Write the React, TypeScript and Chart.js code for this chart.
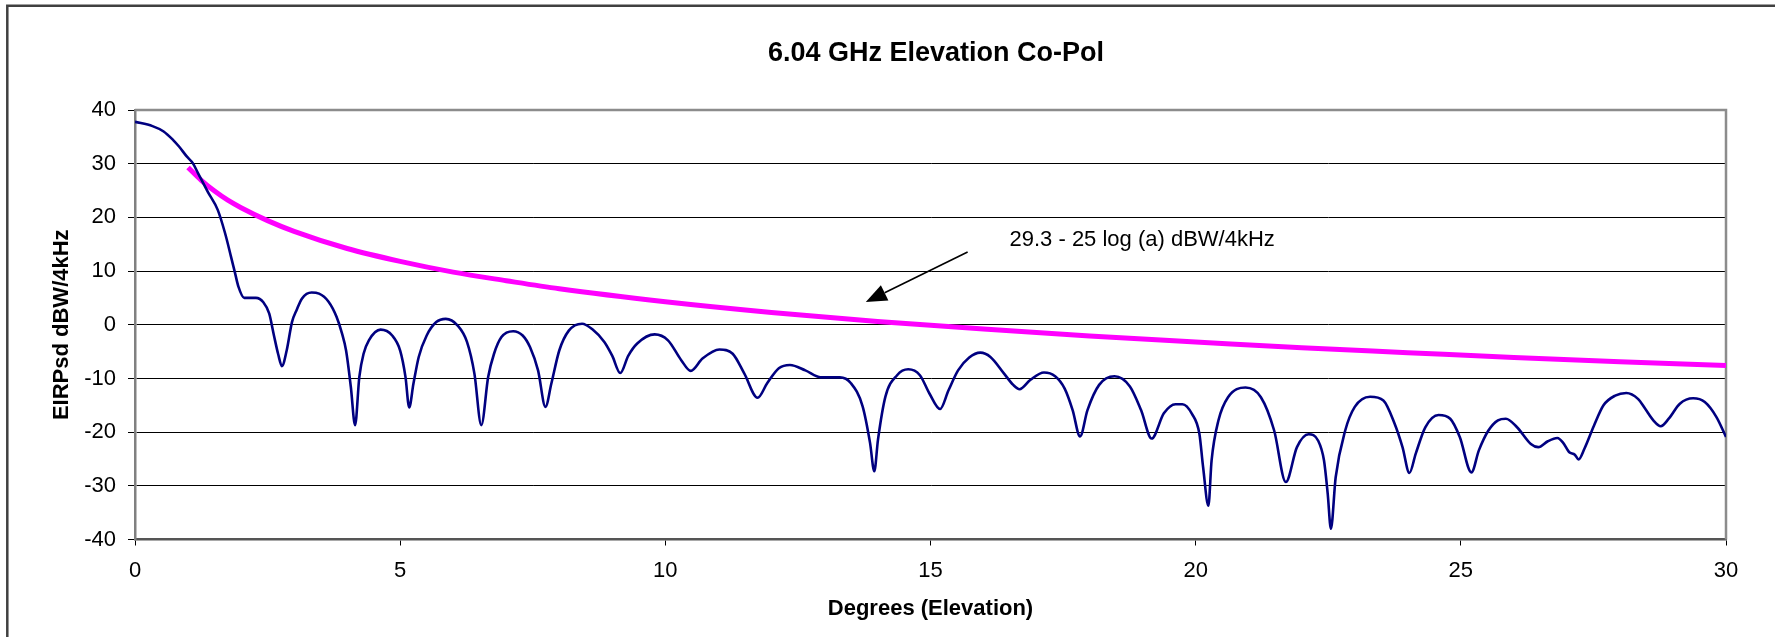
import React, { useEffect, useRef } from "react";
import { Chart, registerables } from "chart.js";

Chart.register(...registerables);

// Measured co-polar pattern (degrees elevation vs EIRPsd dBW/4kHz)
const elevationDeg = [
  0.0, 0.33, 0.54, 0.72, 0.83, 0.98, 1.09, 1.19, 1.37, 1.56, 1.7, 1.81, 1.88, 1.95, 2.06, 2.28, 2.42, 2.53, 2.62, 2.7,
  2.77, 2.86, 2.96, 3.05, 3.15, 3.33, 3.47, 3.65, 3.8, 3.9, 3.98, 4.07, 4.15, 4.23, 4.31, 4.41, 4.63, 4.85, 5.0, 5.1,
  5.17, 5.25, 5.35, 5.5, 5.68, 5.86, 6.08, 6.26, 6.4, 6.53, 6.66, 6.77, 6.91, 7.13, 7.31, 7.45, 7.6, 7.74, 7.85, 8.0,
  8.18, 8.43, 8.63, 8.85, 9.0, 9.15, 9.3, 9.47, 9.8, 10.05, 10.3, 10.48, 10.7, 11.02, 11.27, 11.49, 11.74, 11.92, 12.14, 12.35, 12.64, 12.93,
  13.29, 13.5, 13.72, 13.86, 13.94, 14.01, 14.15, 14.37, 14.58, 14.8, 14.98, 15.18, 15.34, 15.52, 15.73, 15.94, 16.13, 16.38, 16.56, 16.68,
  16.88, 17.14, 17.35, 17.53, 17.68, 17.82, 17.96, 18.18, 18.47, 18.76, 18.97, 19.17, 19.4, 19.62, 19.75, 19.93, 20.07, 20.14, 20.24, 20.3,
  20.43, 20.61, 20.94, 21.23, 21.48, 21.7, 21.91, 22.13, 22.31, 22.42, 22.49, 22.55, 22.64, 22.82, 23.0, 23.29, 23.54, 23.75, 23.9, 24.03,
  24.15, 24.33, 24.58, 24.8, 24.98, 25.2, 25.34, 25.52, 25.7, 25.85, 26.06, 26.32, 26.46, 26.64, 26.82, 26.93, 27.04, 27.15, 27.22, 27.33,
  27.51, 27.69, 27.91, 28.12, 28.34, 28.48, 28.63, 28.77, 28.92, 29.13, 29.38, 29.6, 29.82, 30.0,
];
const copolDbw = [
  37.8, 37.0, 36.0, 34.4, 33.2, 31.3, 30.1, 28.2, 24.8, 21.4, 17.0, 12.7, 9.9, 7.1, 5.0, 5.0, 4.2, 2.1, -2.0, -5.5,
  -7.7, -4.8, 0.5, 2.8, 4.9, 6.0, 5.8, 4.3, 1.5, -1.5, -4.8, -11.6, -18.7, -9.7, -5.4, -2.9, -0.9, -2.0, -4.8, -9.7,
  -15.4, -11.0, -6.0, -2.0, 0.5, 1.1, -0.1, -3.2, -9.1, -18.7, -9.7, -5.4, -2.3, -1.2, -2.0, -4.2, -8.5, -15.3, -11.0, -4.8,
  -1.1, 0.2, -0.9, -3.2, -5.8, -9.0, -5.8, -3.5, -1.8, -2.9, -6.6, -8.6, -6.3, -4.6, -5.4, -9.1, -13.6, -10.9, -8.1, -7.5, -8.5, -9.8,
  -9.8, -10.9, -15.2, -22.0, -27.3, -21.4, -13.4, -9.4, -8.3, -9.4, -12.8, -15.7, -12.2, -8.5, -6.1, -5.2, -6.0, -9.0, -11.2, -12.0,
  -10.3, -8.9, -9.6, -11.9, -15.9, -20.8, -15.9, -11.2, -9.6, -11.5, -15.9, -21.2, -16.5, -14.8, -14.8, -16.6, -20.3, -26.5, -33.7, -25.3,
  -17.8, -13.5, -11.7, -13.5, -19.7, -29.3, -22.8, -20.4, -21.6, -25.3, -31.5, -38.0, -28.4, -19.7, -15.3, -13.4, -14.1, -18.4, -22.8, -27.6,
  -24.0, -19.1, -16.8, -17.5, -20.9, -27.5, -23.4, -19.7, -17.8, -17.5, -19.1, -22.2, -22.8, -21.7, -21.1, -22.0, -23.7, -24.2, -25.1, -23.1,
  -18.8, -15.0, -13.2, -12.7, -13.8, -15.7, -17.8, -18.9, -17.5, -14.7, -13.7, -14.4, -17.2, -20.9,
];

// Envelope "29.3 - 25 log (a)"
const maskDeg = [1, 1.25, 1.5, 1.75, 2, 2.5, 3, 4, 5, 6, 7, 8, 10, 12, 14, 16, 18, 20, 22, 24, 26, 28, 30];
const maskDbw = [29.3, 26.9, 24.9, 23.2, 21.8, 19.4, 17.4, 14.2, 11.8, 9.8, 8.2, 6.7, 4.3, 2.3, 0.6, -0.8, -2.1, -3.2, -4.3, -5.2, -6.1, -6.9, -7.6];

const chartTitle = "6.04 GHz Elevation Co-Pol";
const xAxisTitle = "Degrees (Elevation)";
const yAxisTitle = "EIRPsd dBW/4kHz";
const annotationText = "29.3 - 25 log (a) dBW/4kHz";
// annotation anchor points in data units
const annotationTextAt = [16.49, 15.77];
const arrowFrom = [15.7, 13.54];
const arrowTo = [13.78, 4.22];

const FONT = '"Liberation Sans", Arial, sans-serif';

const decorPlugin = {
  id: "decor",
  beforeDatasetsDraw(chart: any) {
    const { ctx, chartArea: a } = chart;
    ctx.save();
    ctx.strokeStyle = "#8c8c8c";
    ctx.lineWidth = 2.5;
    ctx.beginPath();
    ctx.moveTo(a.left, a.top);
    ctx.lineTo(a.right, a.top);
    ctx.lineTo(a.right, a.bottom);
    ctx.stroke();
    ctx.restore();
  },
  afterDraw(chart: any) {
    const { ctx, chartArea: a } = chart;
    const xs = chart.scales.x;
    const ys = chart.scales.y;
    ctx.save();
    // outer frame
    ctx.strokeStyle = "#404040";
    ctx.lineWidth = 2.5;
    ctx.beginPath();
    ctx.moveTo(7.3, chart.height + 5);
    ctx.lineTo(7.3, 5.7);
    ctx.lineTo(chart.width + 5, 5.7);
    ctx.stroke();

    ctx.fillStyle = "#000";
    // title
    ctx.font = `bold 27px ${FONT}`;
    ctx.textAlign = "center";
    ctx.textBaseline = "alphabetic";
    ctx.fillText(chartTitle, 936, 61);
    // x title
    ctx.font = `bold 22px ${FONT}`;
    ctx.fillText(xAxisTitle, (a.left + a.right) / 2, 615);
    // y title
    ctx.save();
    ctx.translate(62, (a.top + a.bottom) / 2);
    ctx.rotate(-Math.PI / 2);
    ctx.textBaseline = "middle";
    ctx.fillText(yAxisTitle, 0, 0);
    ctx.restore();

    // annotation
    ctx.font = `22px ${FONT}`;
    ctx.textAlign = "left";
    ctx.textBaseline = "middle";
    ctx.fillText(annotationText, xs.getPixelForValue(annotationTextAt[0]), ys.getPixelForValue(annotationTextAt[1]));

    const x1 = xs.getPixelForValue(arrowFrom[0]);
    const y1 = ys.getPixelForValue(arrowFrom[1]);
    const x2 = xs.getPixelForValue(arrowTo[0]);
    const y2 = ys.getPixelForValue(arrowTo[1]);
    const ang = Math.atan2(y2 - y1, x2 - x1);
    const headLen = 21;
    const headHalf = 8.5;
    const bx = x2 - headLen * Math.cos(ang);
    const by = y2 - headLen * Math.sin(ang);
    ctx.strokeStyle = "#000";
    ctx.lineWidth = 1.6;
    ctx.beginPath();
    ctx.moveTo(x1, y1);
    ctx.lineTo(bx, by);
    ctx.stroke();
    ctx.beginPath();
    ctx.moveTo(x2, y2);
    ctx.lineTo(bx + headHalf * Math.sin(ang), by - headHalf * Math.cos(ang));
    ctx.lineTo(bx - headHalf * Math.sin(ang), by + headHalf * Math.cos(ang));
    ctx.closePath();
    ctx.fill();
    ctx.restore();
  },
};

export default function App() {
  const canvasRef = useRef<HTMLCanvasElement | null>(null);

  useEffect(() => {
    if (!canvasRef.current) return;
    const copol = elevationDeg.map((x, i) => ({ x, y: copolDbw[i] }));
    const mask = maskDeg.map((x, i) => ({ x, y: maskDbw[i] }));
    const chart = new Chart(canvasRef.current, {
      type: "line",
      data: {
        datasets: [
          {
            label: "Co-Pol",
            data: copol,
            borderColor: "#000080",
            borderWidth: 2.6,
            pointRadius: 0,
            cubicInterpolationMode: "monotone",
            fill: false,
          },
          {
            label: "29.3 - 25 log (a)",
            data: mask,
            borderColor: "#ff00ff",
            borderWidth: 5,
            pointRadius: 0,
            cubicInterpolationMode: "monotone",
            fill: false,
          },
        ],
      },
      options: {
        animation: false,
        responsive: false,
        devicePixelRatio: 1,
        layout: { padding: { top: 110, right: 49, bottom: 0, left: 0 } },
        plugins: { legend: { display: false }, tooltip: { enabled: false }, title: { display: false } },
        scales: {
          x: {
            type: "linear",
            min: 0,
            max: 30,
            ticks: { stepSize: 5, color: "#000", font: { family: FONT, size: 22 }, padding: 12, maxRotation: 0 },
            grid: { drawOnChartArea: false, color: "#000", tickColor: "#000", tickLength: 6, tickWidth: 1, lineWidth: 1 },
            border: { color: "#555", width: 2.5 },
            afterFit: (s: any) => {
              s.height = 97.5;
            },
          },
          y: {
            type: "linear",
            min: -40,
            max: 40,
            ticks: { stepSize: 10, color: "#000", font: { family: FONT, size: 22 }, padding: 12 },
            grid: {
              color: (c: any) => (c.tick && (c.tick.value === 40 || c.tick.value === -40) ? "rgba(0,0,0,0)" : "#000"),
              lineWidth: 1,
              tickColor: "#000",
              tickLength: 7,
              tickWidth: 1,
            },
            border: { color: "#808080", width: 2.5 },
            afterFit: (s: any) => {
              s.width = 135;
            },
          },
        },
      },
      plugins: [decorPlugin],
    });
    return () => chart.destroy();
  }, []);

  return (
    <div style={{ position: "absolute", left: 0, top: 0, width: 1775, height: 637, background: "#fff" }}>
      <canvas ref={canvasRef} width={1775} height={637} style={{ display: "block", width: 1775, height: 637 }} />
    </div>
  );
}
